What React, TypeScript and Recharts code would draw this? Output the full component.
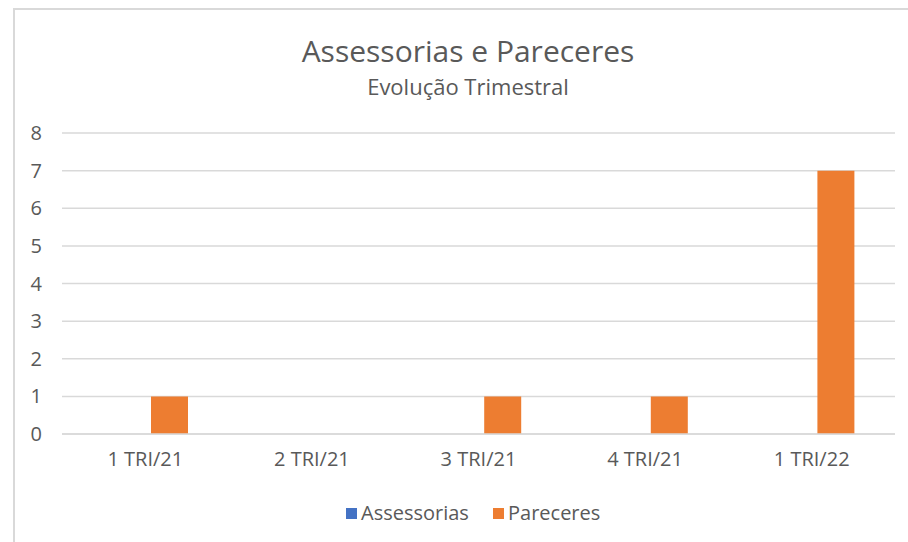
import { Bar, BarChart, CartesianGrid, XAxis, YAxis } from "recharts";

const categories = ["1 TRI/21", "2 TRI/21", "3 TRI/21", "4 TRI/21", "1 TRI/22"];
const assessorias = [0, 0, 0, 0, 0];
const pareceres = [1, 0, 1, 1, 7];
const yTicks = [0, 1, 2, 3, 4, 5, 6, 7, 8];

const series = [
    { key: "assessorias", name: "Assessorias", color: "#4472C4" },
    { key: "pareceres", name: "Pareceres", color: "#ED7D31" },
];

const data = categories.map((name, i) => ({
    name,
    assessorias: assessorias[i],
    pareceres: pareceres[i],
}));

const FONT = "'Open Sans', sans-serif";
const TEXT = "#595959";
const GRID = "#d9d9d9";

export default function App() {
    return (
        <div style={{ position: "absolute", left: 0, top: 0, width: 908, height: 542, background: "#fff", fontFamily: FONT }}>
            {/* chart frame, only top and left edges visible */}
            <div
                style={{
                    position: "absolute",
                    left: 13,
                    top: 8,
                    width: 908,
                    height: 542,
                    borderTop: `2px solid ${GRID}`,
                    borderLeft: `2px solid ${GRID}`,
                }}
            />
            <svg width={908} height={542} style={{ position: "absolute", left: 0, top: 0 }}>
                <text x={468} y={62} textAnchor="middle" fontSize={30} fill={TEXT} fontFamily={FONT}>
                    Assessorias e Pareceres
                </text>
                <text x={468} y={95} textAnchor="middle" fontSize={22} fill={TEXT} fontFamily={FONT}>
                    Evolução Trimestral
                </text>
                {series.map((s, i) => {
                    const x = i === 0 ? 346 : 493;
                    return (
                        <g key={s.key}>
                            <rect x={x} y={508} width={11} height={11} fill={s.color} />
                            <text x={x + 15} y={520} fontSize={20} fill={TEXT} fontFamily={FONT}>
                                {s.name}
                            </text>
                        </g>
                    );
                })}
            </svg>
            <div style={{ position: "absolute", left: 0, top: 0 }}>
                <BarChart
                    width={908}
                    height={542}
                    data={data}
                    margin={{ top: 133, right: 13, left: 0, bottom: 68 }}
                    barSize={37}
                    barGap={12}
                >
                    <CartesianGrid vertical={false} stroke={GRID} strokeWidth={1.5} />
                    <XAxis
                        dataKey="name"
                        height={40}
                        tickLine={false}
                        tickSize={0}
                        tickMargin={18}
                        axisLine={{ stroke: GRID, strokeWidth: 1.5 }}
                        tick={{ fill: TEXT, fontSize: 20, fontFamily: FONT }}
                    />
                    <YAxis
                        width={62}
                        domain={[0, 8]}
                        ticks={yTicks}
                        interval={0}
                        tickLine={false}
                        tickSize={0}
                        tickMargin={20}
                        axisLine={false}
                        tick={{ fill: TEXT, fontSize: 20, fontFamily: FONT }}
                    />
                    {series.map((s) => (
                        <Bar key={s.key} dataKey={s.key} name={s.name} fill={s.color} isAnimationActive={false} />
                    ))}
                </BarChart>
            </div>
        </div>
    );
}
